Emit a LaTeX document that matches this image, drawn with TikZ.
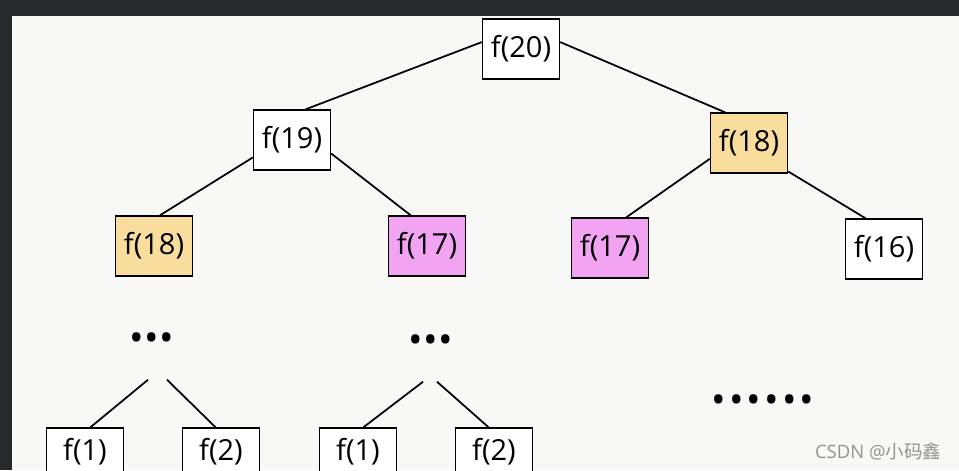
\documentclass[tikz,border=0pt]{standalone}
\usepackage{fontspec}
\setmainfont{Open Sans}
\newfontfamily\cjkfont{Noto Sans CJK SC}
\usepackage{xcolor}
\usepackage{tikz}
\usetikzlibrary{positioning}

\definecolor{darkBar}{HTML}{27282B}
\definecolor{paper}{HTML}{F8F8F6}
\definecolor{dupYellow}{HTML}{F8DD9C}
\definecolor{dupPink}{HTML}{F2A4F2}

\newcommand{\dotrow}[2]{\foreach \i in {1,...,#1}{\makebox[#2]{\textbullet}}}

\begin{document}
\begin{tikzpicture}[x=0.02cm, y=-0.02cm]
            \tikzstyle{block} = [draw, rectangle, line width=0.8pt, fill=white, minimum width=1.54cm, minimum height=1.2cm, inner sep=0pt, font=\fontsize{16.5}{19}\selectfont]
            \tikzstyle{leaf} = [block, text height=12pt, text depth=9pt]
            \tikzstyle{edge} = [line width=1pt]
            \tikzstyle{dots} = [inner sep=0pt, font=\fontsize{22}{24}\selectfont]
            \useasboundingbox (0,0) rectangle (959,470);
            \clip (0,0) rectangle (959,470);
            \fill[darkBar] (0,0) rectangle (959,470);
            \fill[paper] (12,16) rectangle (959,470);

            \node [block] (f20) at (521,49) {f(20)};
            \node [block] (f19) at (292,140) {f(19)};
            \node [block, fill=dupYellow] (rightF18) at (749,143) {f(18)};
            \node [block, fill=dupYellow] (leftF18) at (154,246) {f(18)};
            \node [block, fill=dupPink] (leftF17) at (427,246) {f(17)};
            \node [block, fill=dupPink] (rightF17) at (610,248) {f(17)};
            \node [block] (f16) at (884,249) {f(16)};

            \node [dots] (leftDots) at (152,342) {\dotrow{3}{8.5pt}};
            \node [dots] (midDots) at (431,344) {\dotrow{3}{8.5pt}};
            \node [dots] (moreDots) at (763,404) {\dotrow{6}{10pt}};

            \node [leaf] (leftF1) at (85,458) {f(1)};
            \node [leaf] (leftF2) at (221,458) {f(2)};
            \node [leaf] (midF1) at (358,458) {f(1)};
            \node [leaf] (midF2) at (494,458) {f(2)};

            \node [text=gray!85, font=\fontsize{10.5}{12}\selectfont] (mark) at (878,452) {CSDN @{\cjkfont 小码鑫}};

            \draw[edge] (f20.170) -- (f19.66);
            \draw[edge] (f20.10) -- (rightF18.128);
            \draw[edge] (f19.204) -- (leftF18.79);
            \draw[edge] (f19.341) -- (leftF17.118);
            \draw[edge] (rightF18.202) -- (rightF17.62);
            \draw[edge] (rightF18.324) -- (f16.121);
            \draw[edge] ([xshift=-0.08cm, yshift=-0.56cm]leftDots.south) -- (leftF1.80);
            \draw[edge] ([xshift=0.3cm, yshift=-0.56cm]leftDots.south) -- (leftF2.100);
            \draw[edge] ([xshift=-0.16cm, yshift=-0.56cm]midDots.south) -- (midF1.80);
            \draw[edge] ([xshift=0.12cm, yshift=-0.56cm]midDots.south) -- (midF2.100);
\end{tikzpicture}
\end{document}
